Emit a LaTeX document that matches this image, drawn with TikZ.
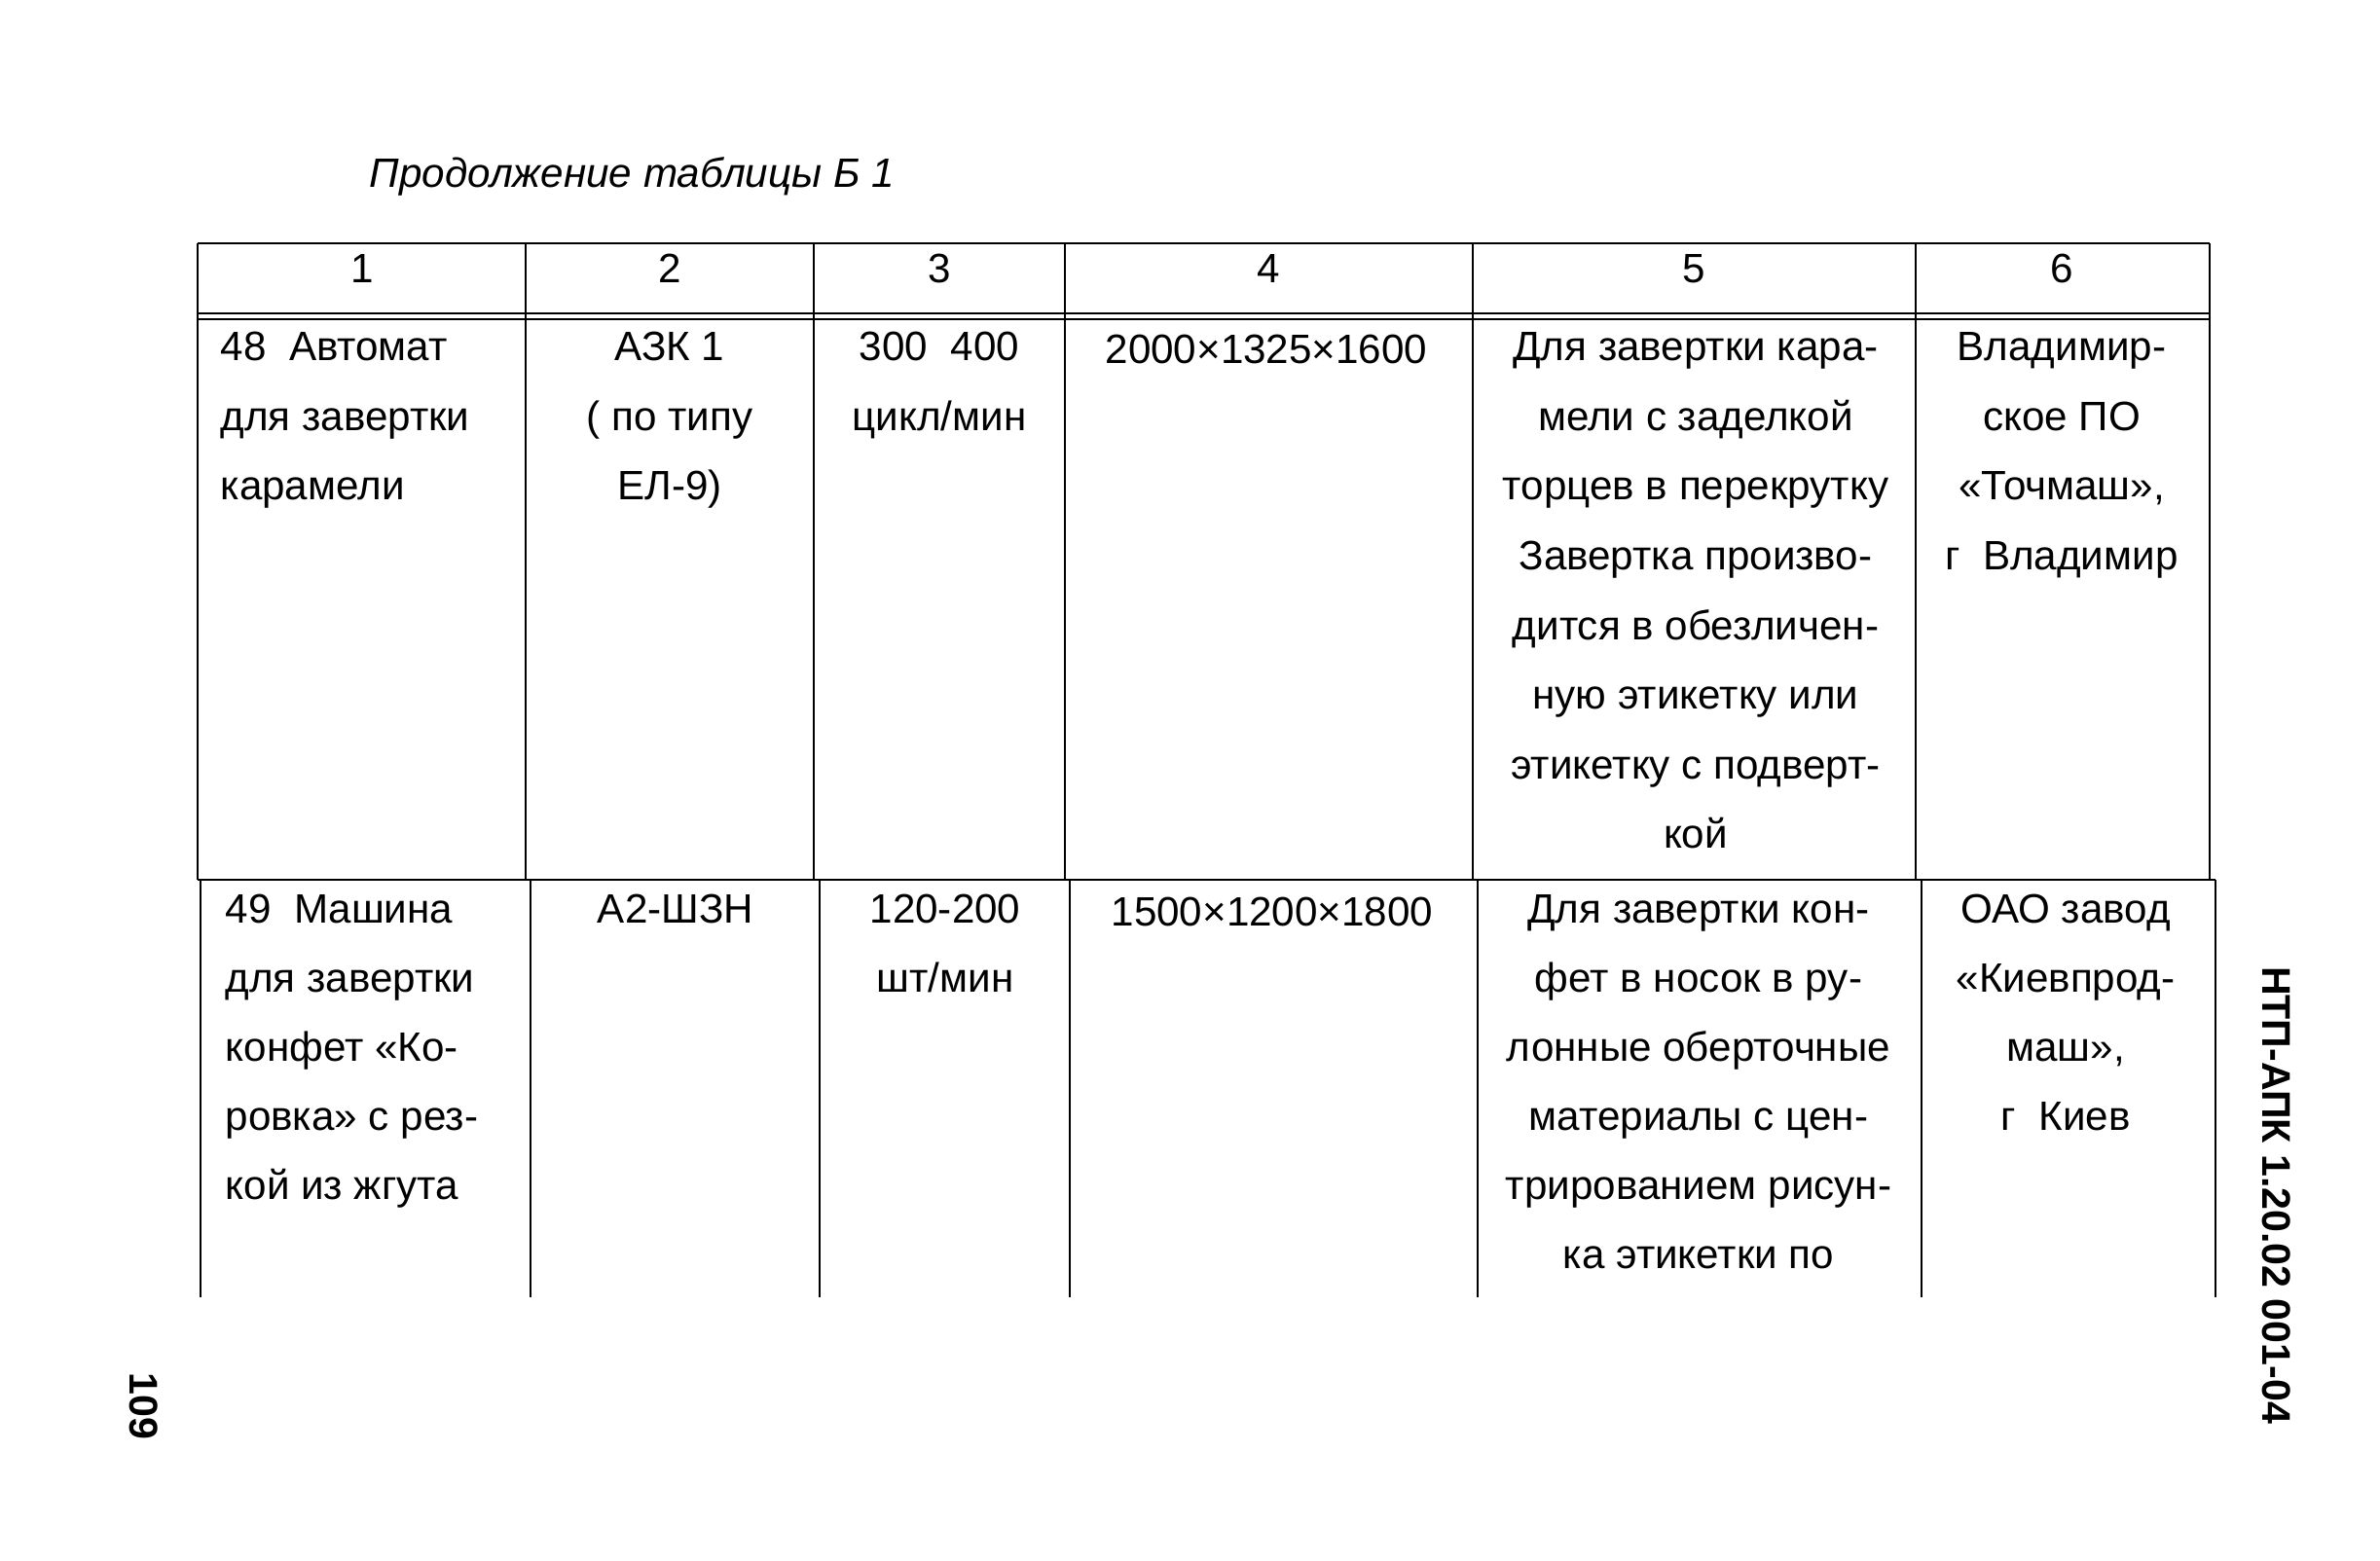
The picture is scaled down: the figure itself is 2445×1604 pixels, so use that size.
\documentclass[tikz,border=0pt]{standalone}
\usepackage{fontspec}
\setmainfont{Liberation Sans}
\usetikzlibrary{calc}

\begin{document}
\begin{tikzpicture}[x=0.1mm,y=-0.1mm,
	rule/.style={line width=0.25mm},
	cell/.style={anchor=base, inner sep=0pt, font=\fontsize{12}{14}\selectfont},
	cellL/.style={cell, anchor=base west},
	sidetext/.style={rotate=-90, inner sep=0pt, font=\bfseries\fontsize{11.7}{14}\selectfont}]
	\useasboundingbox (0,0) rectangle (2445,1604);

	% title
	\node[anchor=base west, inner sep=0pt, font=\itshape\fontsize{12}{14}\selectfont] (title) at (379,193) {Продолжение таблицы Б 1};

	% column borders, upper part and lower part
	\foreach \c/\x/\xx in {0/203/206,1/540/545,2/836/842,3/1094/1099,4/1513/1518,5/1968/1974,6/2270/2276} {
		\coordinate (t\c) at (\x,250);
		\coordinate (m\c) at (\x,904);
		\coordinate (n\c) at (\xx,904);
		\coordinate (b\c) at (\xx,1333);
		\draw[rule] (t\c) -- (m\c);
		\draw[rule] (n\c) -- (b\c);
	}
	\coordinate (h1) at (0,322);
	\coordinate (h2) at (0,328);
	\draw[rule] (t0) -- (t6);
	\draw[rule] (t0 |- h1) -- (t6 |- h1);
	\draw[rule] (t0 |- h2) -- (t6 |- h2);
	\draw[rule] (m0) -- (n6);

	% header
	\foreach \n/\x in {1/372,2/688,3/965,4/1303,5/1740,6/2118}
		\node[cell] (hd\n) at (\x,291) {\n};

	% row 48
	\foreach \t [count=\i from 0] in {{48~~Автомат},{для завертки},{карамели}}
		\node[cellL] (ra\i) at (226,{371+71.5*\i}) {\t};
	\foreach \t [count=\i from 0] in {{АЗК 1},{( по типу},{ЕЛ-9)}}
		\node[cell] (rb\i) at (688,{371+71.5*\i}) {\t};
	\foreach \t [count=\i from 0] in {{300~~400},{цикл/мин}}
		\node[cell] (rc\i) at (965,{371+71.5*\i}) {\t};
	\node[cell] (rd0) at (1301,374) {2000×1325×1600};
	\foreach \t [count=\i from 0] in {{Для завертки кара-},{мели с заделкой},{торцев в перекрутку},{Завертка произво-},{дится в обезличен-},{ную этикетку или},{этикетку с подверт-},{кой}}
		\node[cell] (re\i) at (1742,{371+71.5*\i}) {\t};
	\foreach \t [count=\i from 0] in {{Владимир-},{ское ПО},{«Точмаш»,},{г~~Владимир}}
		\node[cell] (rf\i) at (2118,{371+71.5*\i}) {\t};

	% row 49
	\foreach \t [count=\i from 0] in {{49~~Машина},{для завертки},{конфет «Ко-},{ровка» с рез-},{кой из жгута}}
		\node[cellL] (sa\i) at (231,{948+71*\i}) {\t};
	\node[cell] (sb0) at (694,948) {А2-ШЗН};
	\foreach \t [count=\i from 0] in {{120-200},{шт/мин}}
		\node[cell] (sc\i) at (971,{948+71*\i}) {\t};
	\node[cell] (sd0) at (1307,951) {1500×1200×1800};
	\foreach \t [count=\i from 0] in {{Для завертки кон-},{фет в носок в ру-},{лонные оберточные},{материалы с цен-},{трированием рисун-},{ка этикетки по}}
		\node[cell] (se\i) at (1745,{948+71*\i}) {\t};
	\foreach \t [count=\i from 0] in {{ОАО завод},{«Киевпрод-},{маш»,},{г~~Киев}}
		\node[cell] (sf\i) at (2122,{948+71*\i}) {\t};

	% page margins
	\node[sidetext] (code) at (2339,1228) {НТП-АПК 1.20.02 001-04};
	\node[sidetext] (page) at (148,1445) {109};
\end{tikzpicture}
\end{document}
